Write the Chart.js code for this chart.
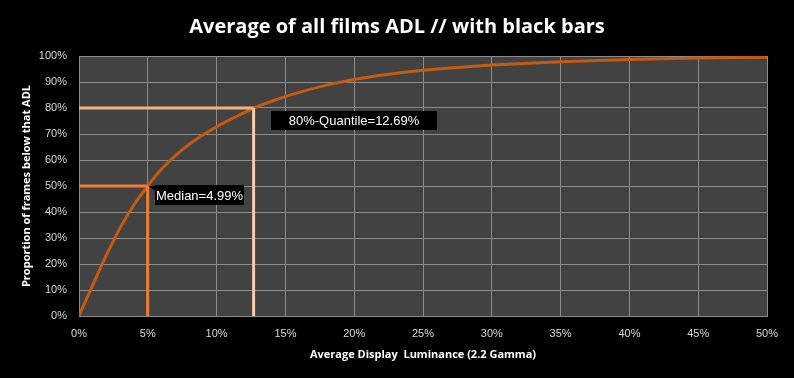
<!DOCTYPE html>
<html>
<head>
<meta charset="utf-8">
<script src="https://cdn.jsdelivr.net/npm/chart.js@4/dist/chart.umd.min.js"></script>
<style>
html,body{margin:0;padding:0;background:#000;}
#wrap{width:794px;height:378px;position:relative;}
</style>
</head>
<body>
<div id="wrap"><canvas id="c" width="794" height="378"></canvas></div>
<script>
// ---- data ----
const chartTitle = "Average of all films ADL // with black bars";
const xAxisTitle = "Average Display  Luminance (2.2 Gamma)";
const yAxisTitle = "Proportion of frames below that ADL";
const adlValues = [0,1,2,3,4,4.99,6,7,8,9,10,11,12,12.69,14,15,16,18,20,22.5,25,27.5,30,35,40,45,50];
const cdfValues = [0,12,23.5,34,42.8,50,56.5,61.7,66,69.6,72.8,75.6,78.2,80,82.6,84.4,86,88.8,91,93,94.5,95.6,96.5,97.8,98.7,99.2,99.5];
const medianADL = 4.99, medianLevel = 50;
const quantileADL = 12.69, quantileLevel = 80;
const medianLabel = "Median=4.99%";
const quantileLabel = "80%-Quantile=12.69%";

const curve = adlValues.map((x,i)=>({x:x,y:cdfValues[i]}));

const bgPlugin = {
  id:'bg',
  beforeDraw(chart){
    const {ctx, chartArea:a} = chart;
    ctx.save();
    ctx.fillStyle = '#000';
    ctx.fillRect(0,0,chart.width,chart.height);
    ctx.fillStyle = '#424242';
    ctx.fillRect(a.left,a.top,a.right-a.left,a.bottom-a.top);
    ctx.restore();
  }
};

const labelPlugin = {
  id:'labels',
  afterDatasetsDraw(chart){
    const {ctx} = chart;
    const xs = chart.scales.x, ys = chart.scales.y;
    const boxes = [
      {x:medianADL, y:medianLevel, text:medianLabel, dx:7.5, dy:-1, w:89, h:20, ptr:true},
      {x:quantileADL, y:quantileLevel, text:quantileLabel, dx:17, dy:3, w:166, h:19, ptr:false}
    ];
    ctx.save();
    boxes.forEach(b=>{
      const px = xs.getPixelForValue(b.x), py = ys.getPixelForValue(b.y);
      const l = Math.round(px+b.dx), t = Math.round(py+b.dy);
      ctx.fillStyle = '#000';
      ctx.fillRect(l,t,b.w,b.h);
      if(b.ptr){
        ctx.beginPath();
        ctx.moveTo(px+1,py);
        ctx.lineTo(l,t+1);
        ctx.lineTo(l,t+6);
        ctx.closePath();
        ctx.fill();
      }
      ctx.fillStyle = '#ffffff';
      ctx.font = '13px "Liberation Sans", sans-serif';
      ctx.textAlign = 'center';
      ctx.textBaseline = 'middle';
      ctx.fillText(b.text, l+b.w/2, t+b.h/2+1);
    });
    ctx.restore();
  }
};

new Chart(document.getElementById('c'), {
  type:'line',
  data:{
    datasets:[
      {data:[{x:0,y:quantileLevel},{x:quantileADL,y:quantileLevel}], borderColor:'#F4B183', borderWidth:3, pointRadius:0, tension:0},
      {data:[{x:quantileADL,y:0},{x:quantileADL,y:quantileLevel}], borderColor:'#F8CBAD', borderWidth:3, pointRadius:0, tension:0},
      {data:[{x:0,y:medianLevel},{x:medianADL,y:medianLevel}], borderColor:'#ED7D31', borderWidth:3, pointRadius:0, tension:0},
      {data:[{x:medianADL,y:0},{x:medianADL,y:medianLevel}], borderColor:'#ED7D31', borderWidth:3, pointRadius:0, tension:0},
      {data:curve, borderColor:'#C55A11', borderWidth:3, pointRadius:0, cubicInterpolationMode:'monotone'}
    ]
  },
  options:{
    responsive:false,
    animation:false,
    layout:{padding:0},
    plugins:{
      legend:{display:false},
      tooltip:{enabled:false},
      title:{display:true, text:chartTitle, color:'#ffffff',
        font:{family:'"Open Sans", sans-serif', size:20, weight:'bold', lineHeight:1.2},
        padding:{top:15.5,bottom:16.5}}
    },
    scales:{
      x:{type:'linear', min:0, max:50,
        ticks:{stepSize:5, color:'#D9D9D9', padding:11, font:{family:'"Liberation Sans", sans-serif', size:11}, callback:v=>v+'%', maxRotation:0},
        grid:{color:'#8C8C8C', lineWidth:1, drawTicks:false},
        border:{color:'#8C8C8C'},
        title:{display:true, text:xAxisTitle, color:'#ffffff', font:{family:'"Open Sans", sans-serif', size:11, weight:'bold'}, padding:{top:0,bottom:17}},
        afterFit:s=>{s.height=62;}
      },
      y:{min:0, max:100,
        ticks:{stepSize:10, color:'#D9D9D9', padding:12, font:{family:'"Liberation Sans", sans-serif', size:11}, callback:v=>v+'%'},
        grid:{color:'#8C8C8C', lineWidth:1, drawTicks:false},
        border:{color:'#8C8C8C'},
        title:{display:true, text:yAxisTitle, color:'#ffffff', font:{family:'"Open Sans", sans-serif', size:11, weight:'bold'}, padding:{top:20,bottom:0}},
        afterFit:s=>{s.width=79;}
      },
      yRight:{position:'right', min:0, max:100, display:true,
        ticks:{display:false}, grid:{display:false, drawTicks:false}, border:{display:false},
        afterFit:s=>{s.width=27;}
      }
    }
  },
  plugins:[bgPlugin,labelPlugin]
});
</script>
</body>
</html>
